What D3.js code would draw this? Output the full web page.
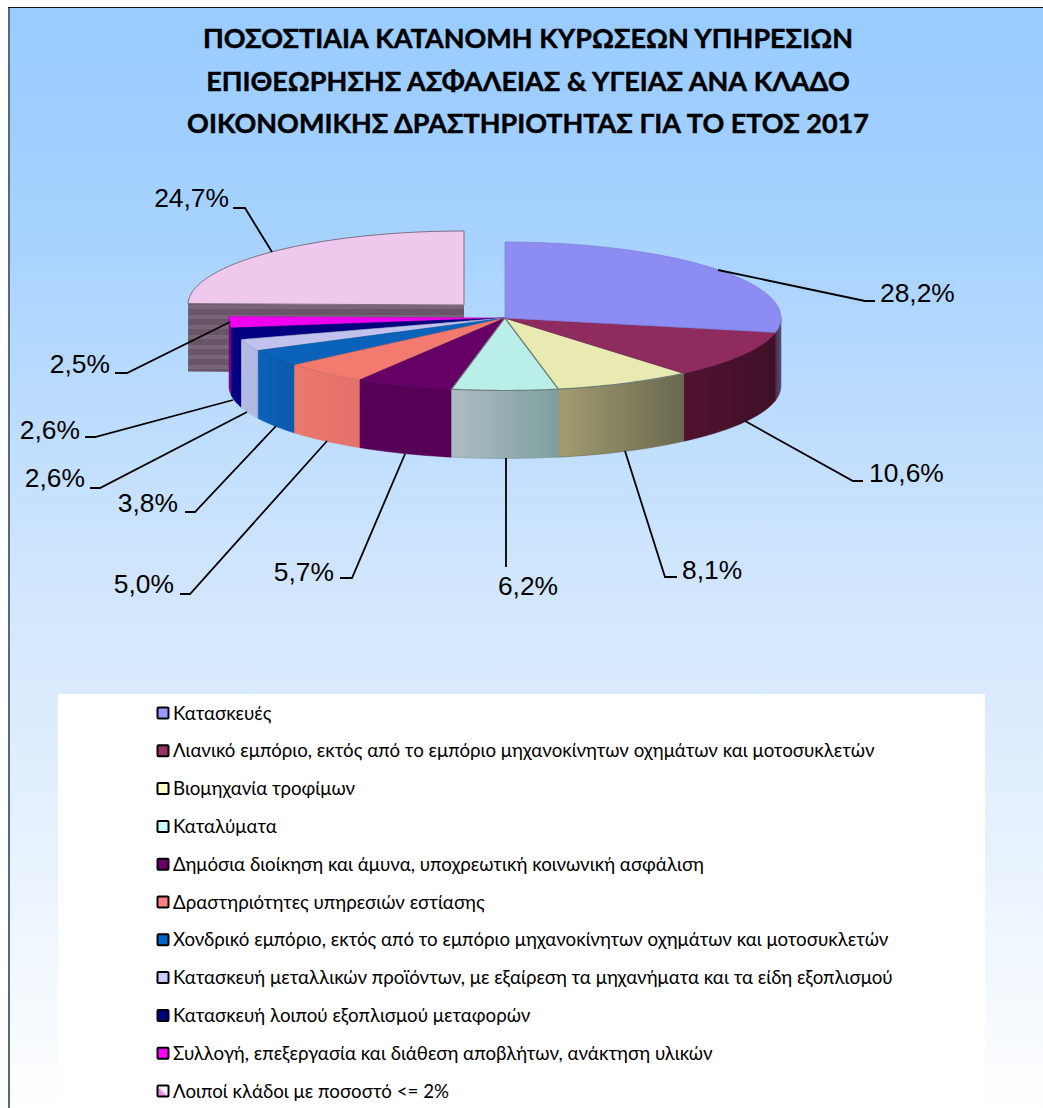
<!DOCTYPE html>
<html lang="el"><head><meta charset="utf-8">
<style>html,body{margin:0;padding:0;background:#fff;overflow:hidden}svg{display:block}</style>
<script src="https://cdn.jsdelivr.net/npm/d3@7"></script></head>
<body><div id="chart"></div>
<script>
const titleLines = ["ΠΟΣΟΣΤΙΑΙΑ ΚΑΤΑΝΟΜΗ ΚΥΡΩΣΕΩΝ ΥΠΗΡΕΣΙΩΝ","ΕΠΙΘΕΩΡΗΣΗΣ ΑΣΦΑΛΕΙΑΣ & ΥΓΕΙΑΣ ΑΝΑ ΚΛΑΔΟ","ΟΙΚΟΝΟΜΙΚΗΣ ΔΡΑΣΤΗΡΙΟΤΗΤΑΣ ΓΙΑ ΤΟ ΕΤΟΣ 2017"];
const categories = ["Κατασκευές",
"Λιανικό εμπόριο, εκτός από το εμπόριο μηχανοκίνητων οχημάτων και μοτοσυκλετών",
"Βιομηχανία τροφίμων","Καταλύματα",
"Δημόσια διοίκηση και άμυνα, υποχρεωτική κοινωνική ασφάλιση",
"Δραστηριότητες υπηρεσιών εστίασης",
"Χονδρικό εμπόριο, εκτός από το εμπόριο μηχανοκίνητων οχημάτων και μοτοσυκλετών",
"Κατασκευή μεταλλικών προϊόντων, με εξαίρεση τα μηχανήματα και τα είδη εξοπλισμού",
"Κατασκευή λοιπού εξοπλισμού μεταφορών",
"Συλλογή, επεξεργασία και διάθεση αποβλήτων, ανάκτηση υλικών",
"Λοιποί κλάδοι με ποσοστό <= 2%"];
const values = [28.2,10.6,8.1,6.2,5.7,5.0,3.8,2.6,2.6,2.5,24.7];

const legendColors = ["#9999ff","#993366","#ffffcc","#ccffff","#660066","#ff8080","#0066cc","#ccccff","#000080","#ff00ff","url(#lg)"];
const topColors = ["#8c8cf2","#8f2b5f","#e9e9b2","#baefe9","#660066","#f27a6e","#0a62ba","#c2c2ee","#000080","#f000f0","#efc8ee"];
const wallLight = ["#4a2a48","#4f1230","#a39d72","#aebcc4","#560058","#ea786e","#0a62b8","#b4bce4","#000080","#7a0080","#685668"];
const wallDark  = ["#5a5070","#401028","#68684e","#7e9f9e","#560058","#e4726a","#0a5aa8","#b0b8e0","#000080","#7a0080","#685668"];

const W=1043,H=1108, cx=505, cy=318, rx=276, ryBack=76, ryFront=72.5, depth=68;
const TAU=Math.PI*2;
const leaderLayout = [
 {e:[865,301],h:[875,301],t:[880,302],a:"start",s:[718,270]},
 {e:[853,481],h:[863,481],t:[869,482],a:"start",s:[745,421]},
 {e:[665,577],h:[677,577],t:[682,579],a:"start",s:[625,451]},
 {e:[506,567],h:[506,567],t:[528,595],a:"middle",s:[506,458]},
 {e:[352,578],h:[340,578],t:[334,581],a:"end",s:[405,454]},
 {e:[190,594],h:[180,594],t:[174,593],a:"end",s:[327,441]},
 {e:[195,512],h:[185,512],t:[178,512],a:"end",s:[276,426]},
 {e:[100,488],h:[90,488],t:[85,487],a:"end",s:[247,412]},
 {e:[95,437],h:[85,437],t:[80,439],a:"end",s:[233,400]},
 {e:[127,373],h:[115,373],t:[110,373],a:"end",s:[230,322]},
 {e:[245,208],h:[233,208],t:[229,207],a:"end",s:[272,252]}
];
const explodedOffset = {10:[-41,-13]};

const svg=d3.select("#chart").append("svg").attr("width",W).attr("height",H);
const defs=svg.append("defs");
const bg=defs.append("linearGradient").attr("id","bg").attr("x1",0).attr("x2",0).attr("y1",0).attr("y2",1);
[[0,"#99ccff"],[.2,"#a6d2ff"],[.5,"#cfe5fd"],[.7,"#e2effd"],[1,"#ffffff"]].forEach(d=>bg.append("stop").attr("offset",d[0]).attr("stop-color",d[1]));
svg.append("rect").attr("x",9).attr("y",7).attr("width",W+5).attr("height",H+5).attr("fill","url(#bg)");
svg.append("line").attr("x1",9).attr("x2",9).attr("y1",7).attr("y2",H).attr("stroke","#56687c").attr("stroke-width",2);
svg.append("line").attr("x1",8).attr("x2",W).attr("y1",7.5).attr("y2",7.5).attr("stroke","#101418").attr("stroke-width",1);

const lg=defs.append("linearGradient").attr("id","lg").attr("x1",1).attr("y1",0).attr("x2",0).attr("y2",1);
[[0,"#ffffff"],[.45,"#ffffff"],[.6,"#f090e0"],[1,"#f090e0"]].forEach(d=>lg.append("stop").attr("offset",d[0]).attr("stop-color",d[1]));

const title=svg.append("g");
title.selectAll("text").data(titleLines).join("text")
 .attr("x",528).attr("y",(d,i)=>48+i*42.5).attr("text-anchor","middle")
 .attr("font-family","Lato, 'Open Sans', sans-serif").attr("font-weight",700).attr("font-size",27).attr("fill","#000")
 .attr("stroke","#000").attr("stroke-width",.45).text(d=>d);

const pie=d3.pie().sort(null).startAngle(0).endAngle(TAU)(values);
const px=(a,ox=0)=>cx+ox+rx*Math.sin(a);
const py=(a,oy=0,ryb=ryBack)=>{const c=Math.cos(a);return cy+oy-(c>0?ryb:ryFront)*c;};
const line=d3.line();
function arcPts(a0,a1,ox=0,oy=0,dz=0,ryb=ryBack){const n=Math.max(2,Math.ceil(Math.abs(a1-a0)*60));
 return d3.range(n+1).map(i=>{const a=a0+(a1-a0)*i/n;return [px(a,ox),py(a,oy,ryb)+dz];});}

const pieG=svg.append("g");
const off=i=>explodedOffset[i]||[0,0];
pie.forEach((p,i)=>{
 const g=defs.append("linearGradient").attr("id","w"+i).attr("gradientUnits","objectBoundingBox");
 g.append("stop").attr("offset",0).attr("stop-color",wallLight[i]);
 g.append("stop").attr("offset",1).attr("stop-color",wallDark[i]);
});
{const i=10,p=pie[i],[ox,oy]=off(i);
 const stripes=defs.append("pattern").attr("id","st").attr("patternUnits","userSpaceOnUse").attr("width",10).attr("height",10);
 stripes.append("rect").attr("width",10).attr("height",10).attr("fill","#685668");
 stripes.append("rect").attr("y",5).attr("width",10).attr("height",4).attr("fill","#786678");
 const a=p.startAngle;
 pieG.append("path").attr("d",line([[px(a,ox),py(a,oy)],[cx+ox,cy+oy],[cx+ox,cy+oy+depth],[px(a,ox),py(a,oy)+depth]])+"Z").attr("fill","url(#st)");
 pieG.append("path").attr("d",line([[cx+ox,cy+oy],...arcPts(p.startAngle,p.endAngle,ox,oy,0,74)])+"Z").attr("fill",topColors[i]).attr("stroke","#7d6f80").attr("stroke-width",1);
}
const order=[9,8,7,6,5,4,0,1,2,3];
order.forEach(i=>{const p=pie[i];
 const lo=Math.max(p.startAngle,Math.PI/2), hi=Math.min(p.endAngle,Math.PI*1.5+0.04);
 if(hi<=lo)return;
 const up=arcPts(lo,hi), dn=arcPts(hi,lo,0,0,depth);
 pieG.append("path").attr("d",line([...up,...dn])+"Z").attr("fill","url(#w"+i+")").attr("stroke",wallDark[i]).attr("stroke-width",.6);
});
const topOrder=[9,8,7,6,5,4,3,2,1,0];
topOrder.forEach(i=>{const p=pie[i];
 pieG.append("path").attr("d",line([[cx,cy],...arcPts(p.startAngle,p.endAngle)])+"Z").attr("fill",topColors[i])
  .attr("stroke",i==3||i==2?"#6f7f78":d3.color(topColors[i]).darker(.4)).attr("stroke-width",i==3||i==2?1.2:.6);
});

const lab=svg.append("g");
pie.forEach((p,i)=>{const L=leaderLayout[i];
 lab.append("path").attr("d",line([L.s,L.e,L.h])).attr("fill","none").attr("stroke","#000").attr("stroke-width",1.8);
 lab.append("text").attr("x",L.t[0]).attr("y",L.t[1]).attr("text-anchor",L.a)
  .attr("font-family","'Liberation Sans',Arial,sans-serif").attr("font-size",26.4).attr("fill","#000")
  .text(values[i].toFixed(1).replace(".",",")+"%");
});

const legend=svg.append("g");
legend.append("rect").attr("x",58).attr("y",694).attr("width",927).attr("height",H-694).attr("fill","#fff");
const ly=d3.scaleLinear().domain([0,10]).range([713,1091]);
const rows=legend.selectAll("g").data(categories).join("g").attr("transform",(d,i)=>`translate(0,${ly(i)})`);
rows.append("rect").attr("x",157.5).attr("y",-5.5).attr("width",11).attr("height",11).attr("rx",1)
 .attr("fill",(d,i)=>legendColors[i]).attr("stroke","#000").attr("stroke-width",2);
rows.append("text").attr("x",173).attr("y",6.5).attr("font-family","Lato,'Noto Sans',sans-serif").attr("font-size",18.7).attr("fill","#000").text(d=>d);
</script></body></html>
